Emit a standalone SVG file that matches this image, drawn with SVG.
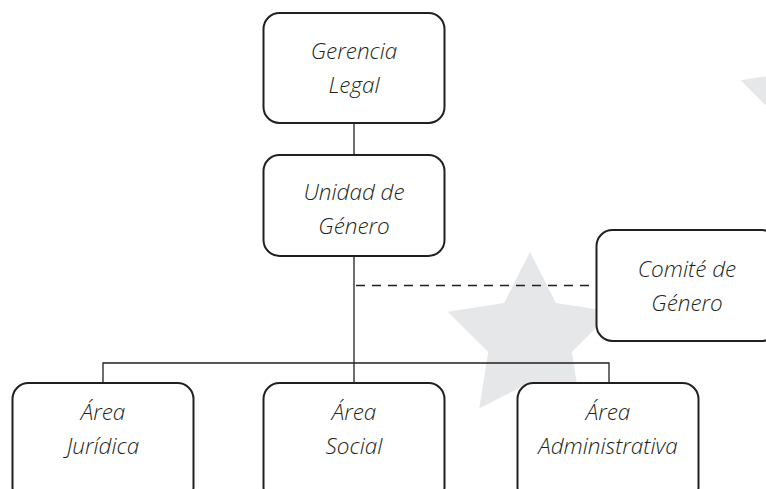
<svg xmlns="http://www.w3.org/2000/svg" width="766" height="489" viewBox="0 0 766 489">
<defs>
<style>
.bg{fill:#ffffff}
.star{fill:#e6e7e8}
.box{fill:#ffffff;stroke:#231f20;stroke-width:2}
.ln{fill:none;stroke:#231f20;stroke-width:1.3}
.dash{fill:none;stroke:#231f20;stroke-width:1.3;stroke-dasharray:9 7}
.t{font-family:"Open Sans","Noto Sans","Liberation Sans",sans-serif;font-style:italic;font-weight:300;font-size:22.5px;fill:#231f20;text-anchor:middle}
</style>
</defs>
<rect class="bg" x="0" y="0" width="766" height="489"/>
<g id="decor">
<polygon class="star" points="530,252 555.9,302.9 612.3,311.8 571.8,352.1 580.8,408.5 530,382.5 479.2,408.5 488.2,352.1 447.7,311.8 504.1,302.9"/>
<polygon class="star" points="823,20.5 848.9,71.4 905.3,80.3 864.8,120.6 873.8,177 823,151 772.2,177 781.2,120.6 740.7,80.3 797.1,71.4"/>
</g>
<g id="connectors">
<line class="ln" x1="354" y1="123" x2="354" y2="155"/>
<line class="ln" x1="354" y1="256" x2="354" y2="383"/>
<line class="dash" x1="356" y1="285.5" x2="596" y2="285.5"/>
<polyline class="ln" points="103,383 103,363 609,363 609,383"/>
</g>
<g id="gerencia-legal">
<rect class="box" x="263.5" y="13" width="181" height="110" rx="16"/>
<text class="t" x="354" y="59">Gerencia</text>
<text class="t" x="354" y="93">Legal</text>
</g>
<g id="unidad-genero">
<rect class="box" x="263.5" y="155" width="181" height="101" rx="16"/>
<text class="t" x="354" y="200">Unidad de</text>
<text class="t" x="354" y="234">Género</text>
</g>
<g id="comite-genero">
<rect class="box" x="596.5" y="230" width="181" height="111" rx="16"/>
<text class="t" x="687" y="277">Comité de</text>
<text class="t" x="687" y="311">Género</text>
</g>
<g id="area-juridica">
<rect class="box" x="12.5" y="383" width="181" height="120" rx="16"/>
<text class="t" x="103" y="420">Área</text>
<text class="t" x="103" y="454">Jurídica</text>
</g>
<g id="area-social">
<rect class="box" x="263.5" y="383" width="181" height="120" rx="16"/>
<text class="t" x="354" y="420">Área</text>
<text class="t" x="354" y="454">Social</text>
</g>
<g id="area-administrativa">
<rect class="box" x="517.5" y="383" width="181" height="120" rx="16"/>
<text class="t" x="608" y="420">Área</text>
<text class="t" x="608" y="454">Administrativa</text>
</g>
</svg>
